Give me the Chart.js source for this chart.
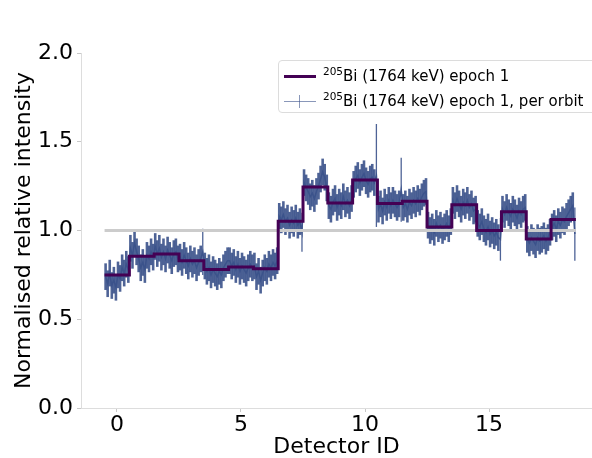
<!DOCTYPE html>
<html>
<head>
<meta charset="utf-8">
<script src="https://cdn.jsdelivr.net/npm/chart.js@4/dist/chart.umd.min.js"></script>
<style>
    html, body {
        margin: 0;
        padding: 0;
        background: #ffffff;
    }

    #wrap {
        position: relative;
        width: 592px;
        height: 458px;
        overflow: hidden;
    }

    #legend {
        position: absolute;
        left: 278px;
        top: 60px;
        width: 330px;
        height: 53px;
        box-sizing: border-box;
        border: 1px solid #dcdcdc;
        border-radius: 4px;
        background: rgba(255, 255, 255, 0.8);
        font-family: "DejaVu Sans", sans-serif;
        font-size: 15px;
        color: #000;
    }

    .row {
        position: absolute;
        left: 0;
        height: 20px;
        line-height: 20px;
        white-space: nowrap;
    }

    .row sup {
        font-size: 10.5px;
        vertical-align: 6px;
        line-height: 0;
    }

    .swatch {
        position: absolute;
        left: 5px;
        width: 32px;
        top: 10px;
    }

    .swatch.step {
        height: 3px;
        margin-top: -1px;
        background: #440154;
    }

    .swatch.orbit {
        height: 1px;
        background: rgba(59, 82, 139, 0.6);
    }

    .swatch.orbit::after {
        content: "";
        position: absolute;
        left: 15px;
        top: -6px;
        width: 1px;
        height: 13px;
        background: rgba(59, 82, 139, 0.6);
    }

    .label {
        position: absolute;
        left: 44px;
    }
</style>
</head>
<body>

<div id="wrap">

    <canvas id="chart" width="592" height="458"></canvas>

    <div id="legend">

        <div class="row" style="top: 5px;">
            <span class="swatch step"></span>
            <span class="label"><sup>205</sup>Bi (1764 keV) epoch 1</span>
        </div>

        <div class="row" style="top: 30px;">
            <span class="swatch orbit"></span>
            <span class="label"><sup>205</sup>Bi (1764 keV) epoch 1, per orbit</span>
        </div>

    </div>

</div>

<script>

// DETECTORS AND EPOCH LEVELS

const detectorIds = [
    0, 1, 2, 3, 4, 5, 6, 7, 8, 9,
    10, 11, 12, 13, 14, 15, 16, 17, 18
];

const epochLevels = [
    0.75, 0.855, 0.867, 0.83, 0.78, 0.795, 0.785, 1.052, 1.245, 1.155,
    1.285, 1.152, 1.165, 1.02, 1.145, 1.0, 1.105, 0.952, 1.062
];


// PER ORBIT VALUES (ONE LIST PER DETECTOR)

const orbitValues = [
    [0.74, 0.70, 0.76, 0.69, 0.72, 0.68, 0.75, 0.73, 0.79, 0.76, 0.81, 0.78],
    [0.90, 0.86, 0.93, 0.88, 0.84, 0.79, 0.82, 0.78, 0.86, 0.84, 0.88, 0.85],
    [0.91, 0.87, 0.90, 0.85, 0.88, 0.84, 0.89, 0.86, 0.83, 0.87, 0.88, 0.84],
    [0.85, 0.82, 0.86, 0.83, 0.80, 0.84, 0.81, 0.83, 0.79, 0.82, 0.84, 0.88],
    [0.80, 0.77, 0.79, 0.75, 0.78, 0.76, 0.74, 0.77, 0.75, 0.79, 0.81, 0.83],
    [0.83, 0.80, 0.82, 0.78, 0.81, 0.77, 0.80, 0.78, 0.76, 0.79, 0.81, 0.79],
    [0.80, 0.74, 0.77, 0.72, 0.76, 0.79, 0.77, 0.81, 0.79, 0.82, 0.80, 0.83],
    [1.08, 1.06, 1.09, 1.05, 1.07, 1.03, 1.06, 1.04, 1.07, 1.03, 1.05, 0.99],
    [1.27, 1.24, 1.22, 1.19, 1.21, 1.18, 1.22, 1.25, 1.29, 1.33, 1.30, 1.24],
    [1.14, 1.12, 1.16, 1.18, 1.13, 1.16, 1.14, 1.19, 1.15, 1.17, 1.14, 1.18],
    [1.26, 1.29, 1.31, 1.27, 1.30, 1.32, 1.28, 1.26, 1.29, 1.30, 1.27, 1.31],
    [1.12, 1.15, 1.11, 1.16, 1.13, 1.17, 1.14, 1.17, 1.15, 1.13, 1.15, 1.23],
    [1.13, 1.15, 1.12, 1.16, 1.14, 1.17, 1.15, 1.18, 1.16, 1.19, 1.21, 1.22],
    [1.03, 1.00, 1.02, 0.99, 1.04, 1.01, 1.03, 1.00, 1.02, 1.04, 1.01, 1.05],
    [1.17, 1.14, 1.18, 1.15, 1.12, 1.16, 1.14, 1.17, 1.13, 1.15, 1.11, 1.12],
    [1.04, 1.02, 1.05, 1.01, 0.99, 1.02, 0.98, 1.00, 0.97, 0.99, 0.96, 0.95],
    [1.12, 1.09, 1.13, 1.10, 1.08, 1.12, 1.10, 1.07, 1.11, 1.09, 1.12, 1.13],
    [0.95, 0.93, 0.96, 0.94, 0.92, 0.96, 0.94, 0.95, 0.97, 0.94, 0.96, 0.99],
    [1.02, 1.04, 1.01, 1.05, 1.03, 1.06, 1.05, 1.08, 1.10, 1.12, 1.14, 0.98]
];

// usual error of one orbit, and the orbits with a wider one: [detector, orbit, error]
const orbitError = 0.075;

const wideOrbits = [
    [3, 11, 0.13],
    [7, 11, 0.11],
    [10, 11, 0.29],
    [11, 11, 0.18],
    [15, 11, 0.12],
    [18, 11, 0.15]
];

const referenceLevel = 1.0;

const xTicks = [0, 5, 10, 15];
const yTicks = [0, 0.5, 1.0, 1.5, 2.0];


// BUILD POINTS

const stepPoints = [];

detectorIds.forEach((id, i) => {
    stepPoints.push({ x: id - 0.5, y: epochLevels[i] });
    stepPoints.push({ x: id + 0.5, y: epochLevels[i] });
});

const orbitPoints = [];

detectorIds.forEach((id, i) => {
    const list = orbitValues[i];
    list.forEach((v, k) => {
        let err = orbitError;
        wideOrbits.forEach((w) => {
            if (w[0] === i && w[1] === k) err = w[2];
        });
        orbitPoints.push({
            x: id - 0.5 + (k + 0.5) / list.length,
            y: v,
            err: err
        });
    });
});

const refPoints = [
    { x: detectorIds[0] - 0.5, y: referenceLevel },
    { x: detectorIds[detectorIds.length - 1] + 0.5, y: referenceLevel }
];


// ERROR BARS FOR THE ORBIT SERIES

const errorBars = {
    id: "errorBars",
    beforeDatasetsDraw(chart) {
        const ctx = chart.ctx;
        const xs = chart.scales.x;
        const ys = chart.scales.y;
        const area = chart.chartArea;

        ctx.save();
        ctx.beginPath();
        ctx.rect(area.left, area.top, area.right - area.left, area.bottom - area.top);
        ctx.clip();

        ctx.strokeStyle = "rgba(59, 82, 139, 0.9)";

        orbitPoints.forEach((p) => {
            const px = xs.getPixelForValue(p.x);
            // the wide ones are drawn thin, the rest fill the band
            ctx.lineWidth = p.err > orbitError ? 1.3 : 2.6;
            ctx.beginPath();
            ctx.moveTo(px, ys.getPixelForValue(p.y - p.err));
            ctx.lineTo(px, ys.getPixelForValue(p.y + p.err));
            ctx.stroke();
        });

        ctx.restore();
    }
};


// CHART

Chart.defaults.font.family = "'DejaVu Sans', sans-serif";
Chart.defaults.color = "#000000";

const tickFont = { size: 22 };
const titleFont = { size: 22, lineHeight: 1.0 };

const ctx = document.getElementById("chart");

new Chart(ctx, {

    type: "line",

    data: {

        datasets: [
            {
                data: stepPoints,
                borderColor: "#440154",
                borderWidth: 3,
                pointRadius: 0,
                tension: 0,
                order: 0
            },
            {
                data: refPoints,
                borderColor: "#cccccc",
                borderWidth: 3,
                pointRadius: 0,
                order: 1
            },
            {
                data: orbitPoints,
                borderColor: "rgba(59, 82, 139, 0.95)",
                borderWidth: 1.5,
                pointRadius: 0,
                tension: 0,
                order: 2
            }
        ]
    },

    options: {

        responsive: false,
        animation: false,

        layout: {
            padding: { top: 53, right: 0, bottom: 0, left: 0 }
        },

        plugins: {
            legend: { display: false },
            tooltip: { enabled: false }
        },

        scales: {

            x: {
                type: "linear",
                min: -1.45,
                max: 19.15,
                afterBuildTicks: (scale) => {
                    scale.ticks = xTicks.map((v) => ({ value: v }));
                },
                afterFit: (scale) => {
                    scale.height = 50;
                },
                ticks: {
                    font: tickFont,
                    padding: 0,
                    maxRotation: 0
                },
                grid: {
                    drawOnChartArea: false,
                    tickLength: 4,
                    color: "#c8c8c8"
                },
                border: {
                    color: "#dddddd"
                },
                title: {
                    display: true,
                    text: "Detector ID",
                    font: titleFont,
                    padding: 0
                }
            },

            y: {
                min: 0,
                max: 2,
                afterBuildTicks: (scale) => {
                    scale.ticks = yTicks.map((v) => ({ value: v }));
                },
                afterFit: (scale) => {
                    scale.width = 81;
                },
                ticks: {
                    font: tickFont,
                    padding: 4,
                    callback: (v) => v.toFixed(1)
                },
                grid: {
                    drawOnChartArea: false,
                    tickLength: 4,
                    color: "#c8c8c8"
                },
                border: {
                    color: "#dddddd"
                },
                title: {
                    display: true,
                    text: "Normalised relative intensity",
                    font: titleFont,
                    padding: { top: 13, bottom: 0 }
                }
            }
        }
    },

    plugins: [errorBars]
});

</script>

</body>
</html>
